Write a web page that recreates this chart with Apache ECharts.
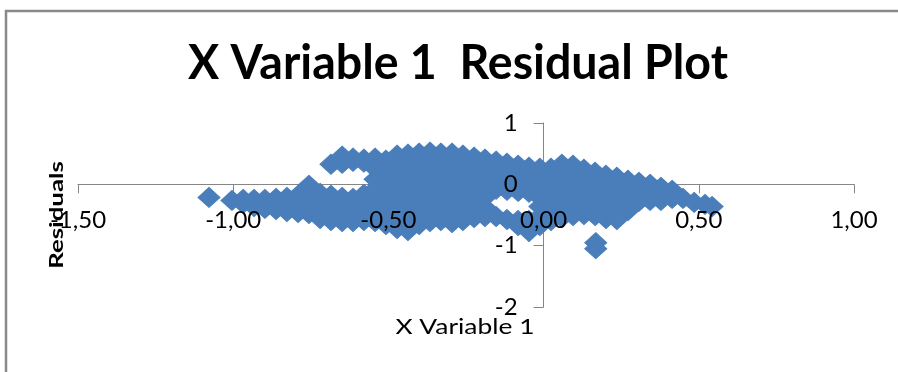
<!DOCTYPE html>
<html>
<head>
<meta charset="utf-8">
<script src="https://cdn.jsdelivr.net/npm/echarts@6/dist/echarts.min.js"></script>
<style>
  html, body { margin: 0; padding: 0; background: #fff; }
  #chart { width: 898px; height: 372px; }
</style>
</head>
<body>
<div id="chart"></div>
<script>
// Axis ranges and tick labels
const xTicks = [-1.5, -1.0, -0.5, 0.0, 0.5, 1.0];
const yTicks = [-2, -1, 0, 1];

// Residuals (x = X Variable 1, y = residual)
const leftOutlier = [[-1.078, -0.213]];

const lowOutliers = [[0.168, -0.951], [0.168, -1.049]];

const leftTail = [
  [-1.004, -0.262],
  [-0.968, -0.246], [-0.968, -0.311],
  [-0.933, -0.246], [-0.933, -0.361],
  [-0.898, -0.246], [-0.898, -0.393],
  [-0.862, -0.230], [-0.862, -0.410],
  [-0.827, -0.213], [-0.827, -0.344], [-0.827, -0.443],
  [-0.791, -0.180], [-0.791, -0.328], [-0.791, -0.459],
  [-0.756, -0.016], [-0.756, -0.180], [-0.756, -0.328], [-0.756, -0.475],
  [-0.720, -0.148], [-0.720, -0.295], [-0.720, -0.426], [-0.720, -0.557],
  [-0.685, -0.180], [-0.685, -0.328], [-0.685, -0.459], [-0.685, -0.590],
  [-0.649, -0.213], [-0.649, -0.344], [-0.649, -0.475], [-0.649, -0.607],
  [-0.614, -0.230], [-0.614, -0.361], [-0.614, -0.492], [-0.614, -0.607],
  [-0.579, -0.164], [-0.579, -0.311], [-0.579, -0.459], [-0.579, -0.590]
];

const upperLobe = [
  [-0.685, 0.328],
  [-0.649, 0.459], [-0.649, 0.344],
  [-0.614, 0.426], [-0.614, 0.377],
  [-0.579, 0.410], [-0.579, 0.361]
];

const mainBody = [
  [-0.543, 0.426], [-0.543, 0.262], [-0.543, 0.082], [-0.543, -0.082], [-0.543, -0.262], [-0.543, -0.426], [-0.543, -0.607],
  [-0.508, 0.393], [-0.508, 0.213], [-0.508, 0.049], [-0.508, -0.131], [-0.508, -0.311], [-0.508, -0.475], [-0.508, -0.656],
  [-0.472, 0.475], [-0.472, 0.311], [-0.472, 0.131], [-0.472, -0.033], [-0.472, -0.213], [-0.472, -0.377], [-0.472, -0.557], [-0.472, -0.721],
  [-0.437, 0.492], [-0.437, 0.311], [-0.437, 0.131], [-0.437, -0.049], [-0.437, -0.213], [-0.437, -0.393], [-0.437, -0.574], [-0.437, -0.754],
  [-0.401, 0.508], [-0.401, 0.344], [-0.401, 0.180], [-0.401, 0.016], [-0.401, -0.164], [-0.401, -0.328], [-0.401, -0.492], [-0.401, -0.656],
  [-0.366, 0.525], [-0.366, 0.361], [-0.366, 0.197], [-0.366, 0.033], [-0.366, -0.115], [-0.366, -0.279], [-0.366, -0.443], [-0.366, -0.607],
  [-0.331, 0.508], [-0.331, 0.344], [-0.331, 0.197], [-0.331, 0.033], [-0.331, -0.115], [-0.331, -0.279], [-0.331, -0.426], [-0.331, -0.590],
  [-0.295, 0.508], [-0.295, 0.344], [-0.295, 0.180], [-0.295, 0.016], [-0.295, -0.131], [-0.295, -0.295], [-0.295, -0.459], [-0.295, -0.623],
  [-0.260, 0.475], [-0.260, 0.295], [-0.260, 0.115], [-0.260, -0.066], [-0.260, -0.230], [-0.260, -0.410], [-0.260, -0.590],
  [-0.224, 0.443], [-0.224, 0.279], [-0.224, 0.115], [-0.224, -0.049], [-0.224, -0.213], [-0.224, -0.377], [-0.224, -0.541],
  [-0.189, 0.410], [-0.189, 0.246], [-0.189, 0.098], [-0.189, -0.066], [-0.189, -0.213], [-0.189, -0.377], [-0.189, -0.525],
  [-0.153, 0.377], [-0.153, 0.230], [-0.153, 0.066], [-0.153, -0.082], [-0.153, -0.525],
  [-0.118, 0.344], [-0.118, 0.197], [-0.118, 0.049], [-0.118, -0.098], [-0.118, -0.574],
  [-0.082, 0.311], [-0.082, 0.164], [-0.082, 0.033], [-0.082, -0.115], [-0.082, -0.590], [-0.082, -0.672],
  [-0.047, 0.279], [-0.047, 0.148], [-0.047, 0.000], [-0.047, -0.131], [-0.047, -0.590], [-0.047, -0.770],
  [-0.012, 0.262], [-0.012, 0.098], [-0.012, -0.049], [-0.012, -0.213], [-0.012, -0.361], [-0.012, -0.525], [-0.012, -0.672],
  [0.024, 0.262], [0.024, 0.098], [0.024, -0.082], [0.024, -0.246], [0.024, -0.426], [0.024, -0.590],
  [0.059, 0.328], [0.059, 0.148], [0.059, -0.016], [0.059, -0.197], [0.059, -0.361], [0.059, -0.541],
  [0.095, 0.311], [0.095, 0.148], [0.095, -0.016], [0.095, -0.180], [0.095, -0.344], [0.095, -0.508],
  [0.130, 0.246], [0.130, 0.098], [0.130, -0.049], [0.130, -0.197], [0.130, -0.344], [0.130, -0.492],
  [0.166, 0.197], [0.166, 0.016], [0.166, -0.164], [0.166, -0.328], [0.166, -0.508],
  [0.201, 0.148], [0.201, -0.033], [0.201, -0.213], [0.201, -0.377], [0.201, -0.557],
  [0.236, 0.115], [0.236, -0.066], [0.236, -0.230], [0.236, -0.410], [0.236, -0.574]
];

const rightTail = [
  [0.272, 0.066], [0.272, -0.098], [0.272, -0.262], [0.272, -0.426],
  [0.307, 0.033], [0.307, -0.131], [0.307, -0.279],
  [0.343, 0.000], [0.343, -0.131], [0.343, -0.262],
  [0.378, -0.049], [0.378, -0.164], [0.378, -0.262],
  [0.414, -0.098], [0.414, -0.230],
  [0.449, -0.230],
  [0.485, -0.295],
  [0.520, -0.328],
  [0.543, -0.361]
];

const residualPoints = [].concat(leftOutlier, leftTail, upperLobe, mainBody, rightTail, lowOutliers);

const AXIS_GREY = '#868686';
const MARK_BLUE = '#4A7EBB';
const LABEL_FONT = 'Lato';

function commaDecimal(v) {
  return v.toFixed(2).replace('.', ',');
}

// Plot area
const GRID = { left: 78, right: 44, top: 123, bottom: 65, width: 776, height: 184 };

const xMin = xTicks[0], xMax = xTicks[xTicks.length - 1];
const yMin = yTicks[0], yMax = yTicks[yTicks.length - 1];

// The label-only axes are shifted from the plot edge onto the zero lines,
// so their labels sit on the crossing axes but above the markers.
const xZeroFromBottom = (0 - yMin) / (yMax - yMin) * GRID.height;
const yZeroFromLeft = (0 - xMin) / (xMax - xMin) * GRID.width;

const chart = echarts.init(document.getElementById('chart'), null, { renderer: 'canvas' });

chart.setOption({
  animation: false,
  backgroundColor: '#ffffff',
  grid: { left: GRID.left, right: GRID.right, top: GRID.top, bottom: GRID.bottom, containLabel: false },
  xAxis: [
    {
      // axis line and ticks, drawn beneath the markers
      type: 'value', min: xMin, max: xMax, interval: 0.5, position: 'bottom', z: 0,
      axisLine: { show: true, onZero: true, lineStyle: { color: AXIS_GREY, width: 1 } },
      axisTick: { show: true, length: 9, lineStyle: { color: AXIS_GREY, width: 1 } },
      axisLabel: { show: false },
      splitLine: { show: false }
    },
    {
      // tick labels, drawn above the markers
      type: 'value', min: xMin, max: xMax, interval: 0.5, position: 'bottom', z: 10,
      offset: -xZeroFromBottom,
      axisLine: { show: false, onZero: false },
      axisTick: { show: false },
      axisLabel: {
        show: true, margin: 24, color: '#000', fontFamily: LABEL_FONT, fontSize: 24,
        formatter: commaDecimal, showMinLabel: true, showMaxLabel: true
      },
      splitLine: { show: false }
    }
  ],
  yAxis: [
    {
      type: 'value', min: yMin, max: yMax, interval: 1, position: 'left', z: 0,
      axisLine: { show: true, onZero: true, lineStyle: { color: AXIS_GREY, width: 1 } },
      axisTick: { show: true, length: 10, lineStyle: { color: AXIS_GREY, width: 1 } },
      axisLabel: { show: false },
      splitLine: { show: false }
    },
    {
      type: 'value', min: yMin, max: yMax, interval: 1, position: 'left', z: 10,
      offset: -yZeroFromLeft,
      axisLine: { show: false, onZero: false },
      axisTick: { show: false },
      axisLabel: {
        show: true, margin: 26, color: '#000', fontFamily: LABEL_FONT, fontSize: 24,
        formatter: function (v) { return String(v); }
      },
      splitLine: { show: false }
    }
  ],
  series: [
    {
      name: 'Residuals',
      type: 'scatter',
      xAxisIndex: 0,
      yAxisIndex: 0,
      z: 2,
      symbol: 'diamond',
      symbolSize: [22, 20],
      itemStyle: { color: MARK_BLUE, borderColor: MARK_BLUE, borderWidth: 1, opacity: 1 },
      silent: true,
      data: residualPoints
    }
  ],
  graphic: [
    {
      type: 'rect', z: 0, silent: true,
      shape: { x: 6, y: 11, width: 1000, height: 1000 },
      style: { fill: 'none', stroke: '#898989', lineWidth: 2.5 }
    },
    {
      type: 'text', z: 20, silent: true,
      x: 458, y: 64, scaleX: 0.99, scaleY: 1.0,
      style: {
        text: 'X Variable 1  Residual Plot',
        x: 0, y: 0, align: 'center', verticalAlign: 'middle',
        font: 'bold 47px Lato', fill: '#000'
      }
    },
    {
      type: 'text', z: 20, silent: true,
      x: 465, y: 327, scaleX: 1.2,
      style: {
        text: 'X Variable 1',
        x: 0, y: 0, align: 'center', verticalAlign: 'middle',
        font: '22px Lato', fill: '#000'
      }
    },
    {
      type: 'text', z: 20, silent: true,
      x: 57, y: 215, rotation: Math.PI / 2, scaleX: 1.36,
      style: {
        text: 'Residuals',
        x: 0, y: 0, align: 'center', verticalAlign: 'middle',
        font: 'bold 19px Lato', fill: '#000'
      }
    }
  ]
});
</script>
</body>
</html>
